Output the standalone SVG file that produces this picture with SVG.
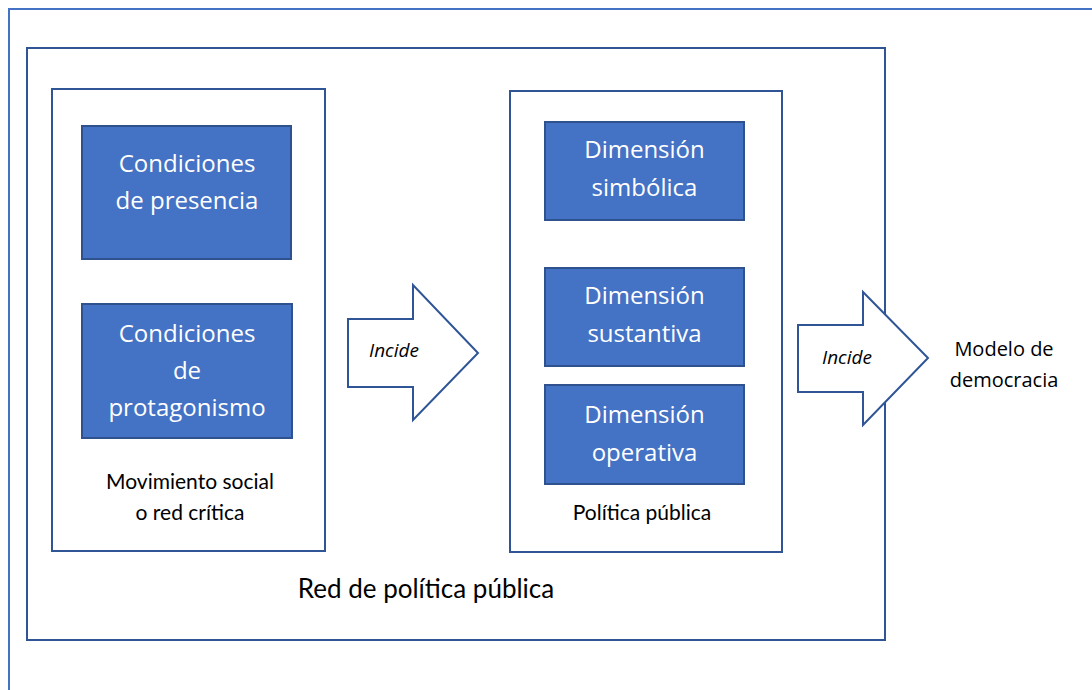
<svg xmlns="http://www.w3.org/2000/svg" width="1092" height="690" viewBox="0 0 1092 690">
<style>
.frame{fill:#fff;stroke:#2F5597;stroke-width:2}
.outer{fill:#fff;stroke:#4472C4;stroke-width:2}
.box{fill:#4472C4;stroke:#2F528F;stroke-width:2}
.arrow{fill:#fff;stroke:#2F5597;stroke-width:2;stroke-linejoin:miter}
.bt{font-family:"Open Sans","Noto Sans",sans-serif;font-size:24px;fill:#fff;text-anchor:middle}
.lbl{font-family:Lato,"Liberation Sans",sans-serif;fill:#000;text-anchor:middle}
.seg{font-family:"Open Sans","Noto Sans",sans-serif;fill:#000;text-anchor:middle}
.it{font-family:"Open Sans","Noto Sans",sans-serif;font-style:italic;font-size:19px;fill:#000;text-anchor:middle}
</style>
<rect width="1092" height="690" fill="#fff"/>
<rect class="outer" x="9" y="9" width="1100" height="700"/>
<g id="red-politica-publica">
<rect class="frame" x="27" y="48" width="858" height="592"/>
<text class="lbl" x="426" y="598" font-size="26">Red de política pública</text>
</g>
<g id="movimiento-social">
<rect class="frame" x="52" y="89" width="273" height="462"/>
<text class="lbl" x="190" y="489" font-size="21">Movimiento social</text>
<text class="lbl" x="190" y="520" font-size="21">o red crítica</text>
</g>
<g id="condiciones-presencia">
<rect class="box" x="82" y="126" width="209" height="133"/>
<text class="bt" x="187" y="172">Condiciones</text>
<text class="bt" x="187" y="209">de presencia</text>
</g>
<g id="condiciones-protagonismo">
<rect class="box" x="82" y="304" width="210" height="134"/>
<text class="bt" x="187" y="342">Condiciones</text>
<text class="bt" x="187" y="379">de</text>
<text class="bt" x="187" y="416">protagonismo</text>
</g>
<g id="politica-publica">
<rect class="frame" x="510" y="91" width="272" height="461"/>
<text class="lbl" x="642" y="520" font-size="21">Política pública</text>
</g>
<g id="dimension-simbolica">
<rect class="box" x="545" y="122" width="199" height="98"/>
<text class="bt" x="644.5" y="158">Dimensión</text>
<text class="bt" x="644.5" y="196">simbólica</text>
</g>
<g id="dimension-sustantiva">
<rect class="box" x="545" y="268" width="199" height="98"/>
<text class="bt" x="644.5" y="304">Dimensión</text>
<text class="bt" x="644.5" y="342">sustantiva</text>
</g>
<g id="dimension-operativa">
<rect class="box" x="545" y="385" width="199" height="99"/>
<text class="bt" x="644.5" y="423">Dimensión</text>
<text class="bt" x="644.5" y="461">operativa</text>
</g>
<g id="connectors">
<g id="incide-1">
<polygon class="arrow" points="348,319 413,319 413,285 478,353 413,420 413,387 348,387"/>
<text class="it" x="394" y="357">Incide</text>
</g>
<g id="incide-2">
<polygon class="arrow" points="798,325 863,325 863,292 928,358 863,425 863,392 798,392"/>
<text class="it" x="847" y="364">Incide</text>
</g>
</g>
<g id="modelo-democracia">
<text class="seg" x="1004" y="356" font-size="20">Modelo de</text>
<text class="seg" x="1004" y="387" font-size="20">democracia</text>
</g>
</svg>
